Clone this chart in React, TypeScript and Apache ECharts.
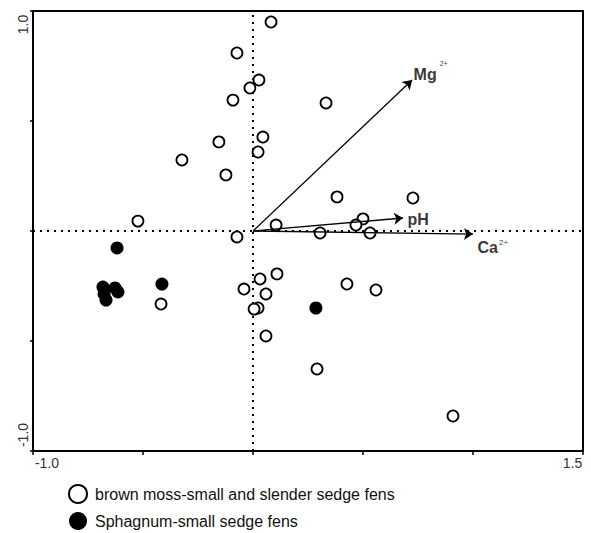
import React, { useEffect, useRef } from 'react';
import * as echarts from 'echarts';

// brown moss-small and slender sedge fens (open circles)
const brownMossX = [0.082, -0.073, 0.027, -0.014, -0.091, 0.332, 0.045, -0.155, 0.023, -0.323, -0.123, 0.382, 0.727, -0.523, 0.105, 0.5, 0.468, 0.305, 0.532, -0.073, 0.109, 0.032, -0.041, 0.059, 0.427, 0.559, -0.418, 0.023, 0.005, 0.059, 0.291, 0.909];
const brownMossY = [0.95, 0.809, 0.686, 0.65, 0.595, 0.582, 0.427, 0.405, 0.359, 0.323, 0.255, 0.155, 0.15, 0.045, 0.027, 0.055, 0.027, -0.009, -0.009, -0.027, -0.195, -0.218, -0.264, -0.286, -0.241, -0.268, -0.332, -0.35, -0.355, -0.477, -0.627, -0.841];

// Sphagnum-small sedge fens (filled circles)
const sphagnumX = [-0.618, -0.414, -0.682, -0.627, -0.614, -0.668, -0.677, 0.286];
const sphagnumY = [-0.077, -0.241, -0.255, -0.259, -0.277, -0.314, -0.286, -0.35];

// environmental vectors
const vectorNames = ['Mg', 'pH', 'Ca'];
const vectorSup = ['2+', '', '2+'];
const vectorX = [0.723, 0.682, 1.0];
const vectorY = [0.686, 0.059, -0.014];

const xTickLabels = ['-1.0', '', '', '', '', '1.5'];
const yTickLabels = ['-1.0', '', '', '', '1.0'];
const seriesNames = ['brown moss-small and slender sedge fens', 'Sphagnum-small sedge fens'];

const labelOffsets = [[0, -6], [3, 1], [3, 13]];
const supStyles = ['s1', '', 's2'];

const SANS = '"Liberation Sans", Arial, sans-serif';
const NARROW = '"Liberation Sans Narrow", "Arial Narrow", "Liberation Sans", Arial, sans-serif';

export default function App() {
  const ref = useRef<HTMLDivElement>(null);
  useEffect(() => {
    if (!ref.current) return;
    const chart = echarts.init(ref.current, null, { renderer: 'svg' });
    const tickFont = { fontSize: 14, color: '#333', fontFamily: SANS };
    const option = {
      animation: false,
      grid: {
        left: 33, top: 11, width: 550, height: 440,
        show: true, borderColor: '#000', borderWidth: 2, backgroundColor: 'transparent',
      },
      xAxis: {
        type: 'value', min: -1, max: 1.5, interval: 0.5,
        splitLine: { show: false },
        axisLine: { show: true, onZero: false, lineStyle: { color: '#000', width: 2 } },
        axisTick: { show: true, length: 4, lineStyle: { color: '#000', width: 1.5 } },
        axisLabel: {
          margin: 5,
          formatter: (v: number) => {
            const i = Math.round((v + 1) / 0.5);
            const t = xTickLabels[i] || '';
            if (!t) return '';
            return i === 0 ? `{l|${t}}` : `{r|${t}}`;
          },
          rich: {
            l: { ...tickFont, padding: [0, 0, 0, 28] },
            r: { ...tickFont, padding: [0, 21, 0, 0] },
          },
        },
      },
      yAxis: {
        type: 'value', min: -1, max: 1, interval: 0.5,
        splitLine: { show: false },
        axisLine: { show: true, onZero: false, lineStyle: { color: '#000', width: 2 } },
        axisTick: { show: true, length: 3, lineStyle: { color: '#000', width: 1.5 } },
        axisLabel: {
          rotate: 90,
          margin: 3,
          formatter: (v: number) => {
            const i = Math.round((v + 1) / 0.5);
            const t = yTickLabels[i] || '';
            if (!t) return '';
            return i === 0 ? `{l|${t}}` : `{r|${t}}`;
          },
          rich: {
            l: { ...tickFont, padding: [0, 0, 0, 32] },
            r: { ...tickFont, padding: [0, 27, 0, 0] },
          },
        },
      },
      legend: {
        orient: 'vertical', left: 68, top: 484, height: 60, padding: 0,
        itemWidth: 18, itemHeight: 18, itemGap: 8,
        icon: 'circle',
        textStyle: { fontSize: 16, lineHeight: 18, color: '#111', fontFamily: SANS, padding: [0, 0, 0, 3] },
        data: [
          { name: seriesNames[0], itemStyle: { color: '#fff', borderColor: '#000', borderWidth: 2 } },
          { name: seriesNames[1], itemStyle: { color: '#000', borderWidth: 0 } },
        ],
      },
      series: [
        {
          name: seriesNames[0],
          type: 'scatter',
          z: 3,
          symbol: 'circle',
          symbolSize: 11,
          itemStyle: { color: '#fff', borderColor: '#000', borderWidth: 1.8, opacity: 1 },
          data: brownMossX.map((x, i) => [x, brownMossY[i]]),
          markLine: {
            silent: true,
            symbol: ['none', 'none'],
            label: { show: false },
            lineStyle: { type: [2, 5], color: '#000', width: 2 },
            data: [{ xAxis: 0 }, { yAxis: 0 }],
            z: 1,
          },
        },
        {
          name: seriesNames[1],
          type: 'scatter',
          z: 3,
          symbol: 'circle',
          symbolSize: 13,
          itemStyle: { color: '#000', opacity: 1 },
          data: sphagnumX.map((x, i) => [x, sphagnumY[i]]),
        },
        {
          name: 'vectors',
          type: 'lines',
          coordinateSystem: 'cartesian2d',
          z: 5,
          symbol: ['none', 'arrow'],
          symbolSize: [0, 9],
          lineStyle: { color: '#000', width: 1.3, opacity: 1, curveness: 0 },
          data: vectorX.map((x, i) => ({ coords: [[0, 0], [x, vectorY[i]]] })),
        },
        {
          name: 'vectorLabels',
          type: 'scatter',
          z: 6,
          symbolSize: 1,
          itemStyle: { color: 'rgba(0,0,0,0)' },
          silent: true,
          data: vectorX.map((x, i) => ({
            value: [x, vectorY[i]],
            label: {
              show: true,
              position: 'right',
              distance: 1,
              offset: labelOffsets[i],
              formatter: vectorSup[i] ? `{m|${vectorNames[i]}}{${supStyles[i]}|${vectorSup[i]}}` : `{m|${vectorNames[i]}}`,
              rich: {
                m: { fontFamily: NARROW, fontWeight: 'bold', fontSize: 16, color: '#000', verticalAlign: 'middle', lineHeight: 18 },
                s1: { fontFamily: SANS, fontSize: 7, color: '#000', verticalAlign: 'middle', lineHeight: 8, padding: [0, 0, 21, 3] },
                s2: { fontFamily: SANS, fontSize: 8, color: '#000', verticalAlign: 'middle', lineHeight: 9, padding: [0, 0, 10, 1] },
              },
            },
          })),
        },
      ],
    };
    chart.setOption(option as any);
    return () => chart.dispose();
  }, []);
  return (
    <div
      ref={ref}
      style={{ position: 'absolute', left: 0, top: 0, width: 591, height: 533, background: '#fff' }}
    />
  );
}
